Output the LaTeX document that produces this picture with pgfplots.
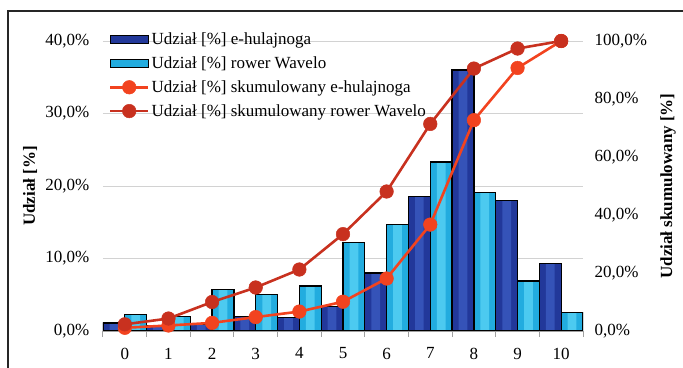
\documentclass[border=0pt]{standalone}
\usepackage{fontspec}
\setmainfont{Liberation Serif}
\usepackage{pgfplots}
\usepackage{pgfplotstable}
\pgfplotsset{compat=1.18}

\definecolor{navy}{HTML}{22389A}
\definecolor{navyHi}{HTML}{3553B8}
\definecolor{cyan}{HTML}{22ACDF}
\definecolor{cyanHi}{HTML}{4CCAF0}
\definecolor{cumE}{HTML}{F2431F}
\definecolor{cumW}{HTML}{C8311F}
\definecolor{gridgray}{HTML}{D2D2D2}
\definecolor{axgray}{HTML}{A0A0A0}

% k: score, eh/wav: share [%], ceh/cwav: cumulative share [%]
\pgfplotstableread{
k  eh    wav   ceh    cwav
0  1.1   2.3   1.1    2.3
1  0.8   2.0   1.9    4.3
2  0.9   5.7   2.8    10.0
3  2.0   5.0   4.8    15.0
4  1.9   6.2   6.7    21.2
5  3.4   12.2  10.1   33.4
6  8.0   14.7  18.1   48.1
7  18.6  23.3  36.7   71.4
8  36.0  19.1  72.7   90.5
9  18.0  6.9   90.7   97.4
10 9.3   2.6   100.0  100.0
}\data

\pgfplotsset{
  base/.style={
    scale only axis, width=480pt, height=290pt,
    at={(103pt,36pt)}, anchor=south west,
    xmin=-0.5, xmax=10.5,
    font=\fontsize{17}{20}\selectfont,
    /pgf/number format/assume math mode=true,
  },
  barE/.style={draw=black, line width=1.2pt, fill=navy},
  barW/.style={draw=black, line width=1.2pt, fill=cyan},
  cumline/.style={color=#1, line width=2.6pt, mark=*, mark size=6.8pt, mark options={fill=#1, draw=#1, line width=0.5pt}},
  barlegend/.style={legend image code/.code={\draw[##1] (0pt,-4pt) rectangle (38pt,4pt);}},
  linelegend/.style={legend image code/.code={\draw[mark repeat=2, mark phase=2, ##1] plot coordinates {(0pt,0pt) (19pt,0pt) (38pt,0pt)};}},
}

\begin{document}
\begin{tikzpicture}[x=1pt,y=1pt]
\useasboundingbox (0,0) rectangle (683,367);
\draw[line width=1.2pt, black!85] (8,-2) -- (8,356) -- (685,356);

% share per score (left axis)
\begin{axis}[base,
  ymin=0, ymax=40,
  axis x line*=bottom, axis y line*=left,
  x axis line style={draw=axgray, line width=1.6pt, -},
  y axis line style={draw=none},
  xtick={0,...,10}, xtick style={draw=none},
  minor xtick={-0.5,0.5,...,10.5},
  minor x tick style={draw=axgray, line width=1pt},
  tick align=outside, minor tick length=6pt,
  ytick={0,10,20,30,40},
  yticklabels={{0,0\%},{10,0\%},{20,0\%},{30,0\%},{40,0\%}},
  ytick style={draw=none},
  ymajorgrids, grid style={gridgray, line width=0.8pt},
  yticklabel style={xshift=-6pt},
  xticklabel style={yshift=-9pt},
  ylabel={\bfseries Udział [\%]},
  ylabel style={at={(axis description cs:-0.152,0.5)}, anchor=center},
]
% bar bodies
\addplot[ybar, bar width=0.5, bar shift=-0.25, draw=none, fill=navy] table[x=k,y=eh]{\data};
\addplot[ybar, bar width=0.5, bar shift=0.25, draw=none, fill=cyan] table[x=k,y=wav]{\data};
% lighter middle band of each bar
\addplot[ybar, bar width=0.2, bar shift=-0.25, draw=none, fill=navyHi] table[x=k,y=eh]{\data};
\addplot[ybar, bar width=0.2, bar shift=0.25, draw=none, fill=cyanHi] table[x=k,y=wav]{\data};
% black outlines on top
\addplot[ybar, bar width=0.5, bar shift=-0.25, draw=black, line width=1.2pt, fill=none] table[x=k,y=eh]{\data};
\addplot[ybar, bar width=0.5, bar shift=0.25, draw=black, line width=1.2pt, fill=none] table[x=k,y=wav]{\data};
\end{axis}

% cumulative share (right axis)
\begin{axis}[base,
  ymin=0, ymax=100,
  axis x line=none, axis y line*=right,
  y axis line style={draw=none},
  ytick={0,20,...,100},
  yticklabels={{0,0\%},{20,0\%},{40,0\%},{60,0\%},{80,0\%},{100,0\%}},
  ytick style={draw=none},
  yticklabel style={xshift=8pt},
  ylabel={\bfseries Udział skumulowany [\%]},
  ylabel style={at={(axis description cs:1.177,0.5)}, anchor=center, rotate=0},
  legend style={at={(axis description cs:0.012,1.035)}, anchor=north west,
    draw=none, fill=none, font=\fontsize{17}{20}\selectfont,
    row sep=6.5pt, inner sep=0pt},
  legend cell align=left,
]
\addlegendimage{barlegend, barE}
\addlegendentry{Udział [\%] e-hulajnoga}
\addlegendimage{barlegend, barW}
\addlegendentry{Udział [\%] rower Wavelo}
\addplot[cumline=cumE, linelegend] table[x=k,y=ceh]{\data};
\addlegendentry{Udział [\%] skumulowany e-hulajnoga}
\addplot[cumline=cumW, linelegend] table[x=k,y=cwav]{\data};
\addlegendentry{Udział [\%] skumulowany rower Wavelo}
\end{axis}
\end{tikzpicture}
\end{document}
